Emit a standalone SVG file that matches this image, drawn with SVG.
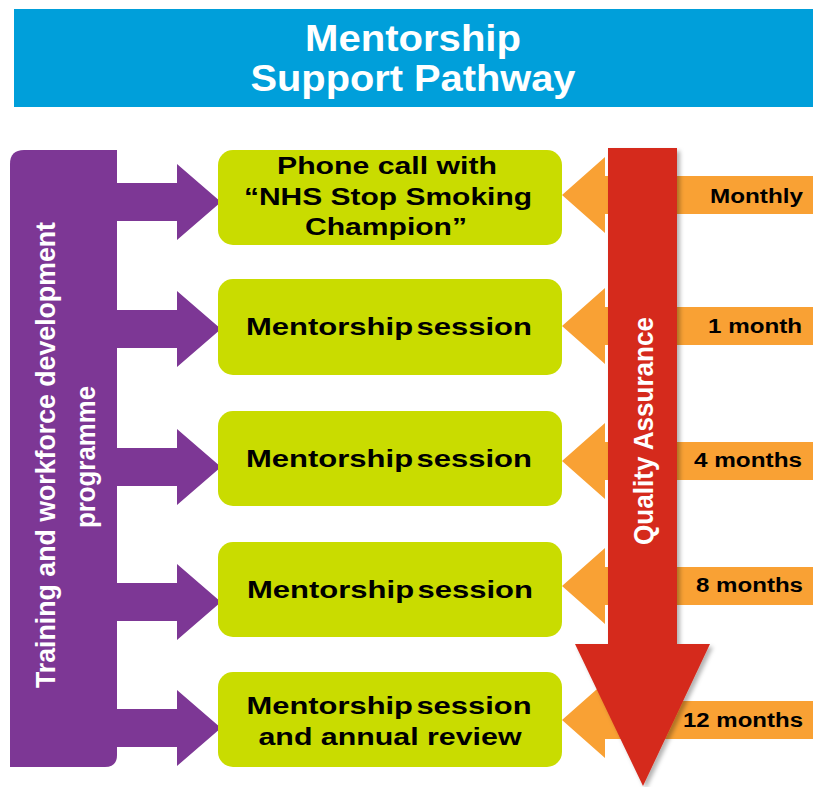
<svg xmlns="http://www.w3.org/2000/svg" width="813" height="787" viewBox="0 0 813 787">
<defs>
<style>
.t{font-family:"Liberation Sans",Arial,sans-serif;font-weight:bold}
.hdr{fill:#ffffff;font-size:36px;text-anchor:middle}
.box{fill:#C9DC00}
.bt{fill:#000000;font-size:24px;text-anchor:middle}
.lbl{fill:#000000;font-size:20px;text-anchor:end}
.side{fill:#ffffff;font-size:28px;text-anchor:middle}
.purple{fill:#7D3795}
.orange{fill:#F9A134}
</style>
<filter id="sh" x="-20%" y="-5%" width="150%" height="115%">
<feDropShadow dx="3" dy="3" stdDeviation="2" flood-color="#000000" flood-opacity="0.3"/>
</filter>
</defs>
<rect width="813" height="787" fill="#ffffff"/>

<g id="header">
<rect x="14" y="9" width="799" height="98" fill="#009FDA"/>
<text class="t hdr" x="413" y="51" textLength="216" lengthAdjust="spacingAndGlyphs">Mentorship</text>
<text class="t hdr" x="413" y="91" textLength="325" lengthAdjust="spacingAndGlyphs">Support Pathway</text>
</g>

<g id="connectors">
<path class="purple" d="M116,183 L177,183 L177,164 L221,202 L177,240 L177,221 L116,221 Z"/>
<path class="purple" d="M116,310 L177,310 L177,291 L221,329 L177,367 L177,348 L116,348 Z"/>
<path class="purple" d="M116,448 L177,448 L177,429 L221,467 L177,505 L177,486 L116,486 Z"/>
<path class="purple" d="M116,583 L177,583 L177,564 L221,602 L177,640 L177,621 L116,621 Z"/>
<path class="purple" d="M116,709 L177,709 L177,690 L221,728 L177,766 L177,747 L116,747 Z"/>

<path class="orange" d="M813,176 L605,176 L605,157 L562,195 L605,233 L605,214 L813,214 Z"/>
<path class="orange" d="M813,307 L605,307 L605,288 L562,326 L605,364 L605,345 L813,345 Z"/>
<path class="orange" d="M813,442 L605,442 L605,423 L562,461 L605,499 L605,480 L813,480 Z"/>
<path class="orange" d="M813,567 L605,567 L605,548 L562,586 L605,624 L605,605 L813,605 Z"/>
<path class="orange" d="M813,701 L605,701 L605,682 L562,720 L605,758 L605,739 L813,739 Z"/>
<text class="t lbl" x="803" y="203" textLength="93" lengthAdjust="spacingAndGlyphs">Monthly</text>
<text class="t lbl" x="802" y="333" textLength="94" lengthAdjust="spacingAndGlyphs">1 month</text>
<text class="t lbl" x="802" y="467" textLength="108" lengthAdjust="spacingAndGlyphs">4 months</text>
<text class="t lbl" x="803" y="592" textLength="107" lengthAdjust="spacingAndGlyphs">8 months</text>
</g>

<g id="training">
<path class="purple" d="M24,150 L117,150 L117,755 Q117,767 105,767 L10,767 L10,164 Q10,150 24,150 Z"/>
<text class="t side" transform="translate(55,455) rotate(-90)" textLength="466" lengthAdjust="spacingAndGlyphs">Training and workforce development</text>
<text class="t side" transform="translate(95,457) rotate(-90)" textLength="142" lengthAdjust="spacingAndGlyphs">programme</text>
</g>

<g id="step1">
<rect class="box" x="218" y="150" width="344" height="95" rx="15"/>
<text class="t bt" x="387" y="174" textLength="220" lengthAdjust="spacingAndGlyphs">Phone call with</text>
<text class="t bt" x="388" y="205" textLength="288" lengthAdjust="spacingAndGlyphs">“NHS Stop Smoking</text>
<text class="t bt" x="386" y="235" textLength="162" lengthAdjust="spacingAndGlyphs">Champion”</text>
</g>
<g id="step2">
<rect class="box" x="218" y="279" width="344" height="96" rx="15"/>
<text class="t bt" x="389" y="335" word-spacing="-4" textLength="286" lengthAdjust="spacingAndGlyphs">Mentorship session</text>
</g>
<g id="step3">
<rect class="box" x="218" y="411" width="344" height="95" rx="15"/>
<text class="t bt" x="389" y="467" word-spacing="-4" textLength="286" lengthAdjust="spacingAndGlyphs">Mentorship session</text>
</g>
<g id="step4">
<rect class="box" x="218" y="542" width="344" height="95" rx="15"/>
<text class="t bt" x="390" y="598" word-spacing="-4" textLength="286" lengthAdjust="spacingAndGlyphs">Mentorship session</text>
</g>
<g id="step5">
<rect class="box" x="218" y="672" width="344" height="95" rx="15"/>
<text class="t bt" x="389" y="714" word-spacing="-4" textLength="285" lengthAdjust="spacingAndGlyphs">Mentorship session</text>
<text class="t bt" x="390" y="745" textLength="263" lengthAdjust="spacingAndGlyphs">and annual review</text>
</g>

<g id="label12">
<text class="t lbl" x="803" y="727" textLength="120" lengthAdjust="spacingAndGlyphs">12 months</text>
</g>

<g id="quality">
<path d="M608,148 L677,148 L677,644 L710,644 L643,786 L575,644 L608,644 Z" fill="#D52B1E" filter="url(#sh)"/>
<text class="t side" transform="translate(653,431) rotate(-90)" textLength="228" lengthAdjust="spacingAndGlyphs">Quality Assurance</text>
</g>
</svg>
